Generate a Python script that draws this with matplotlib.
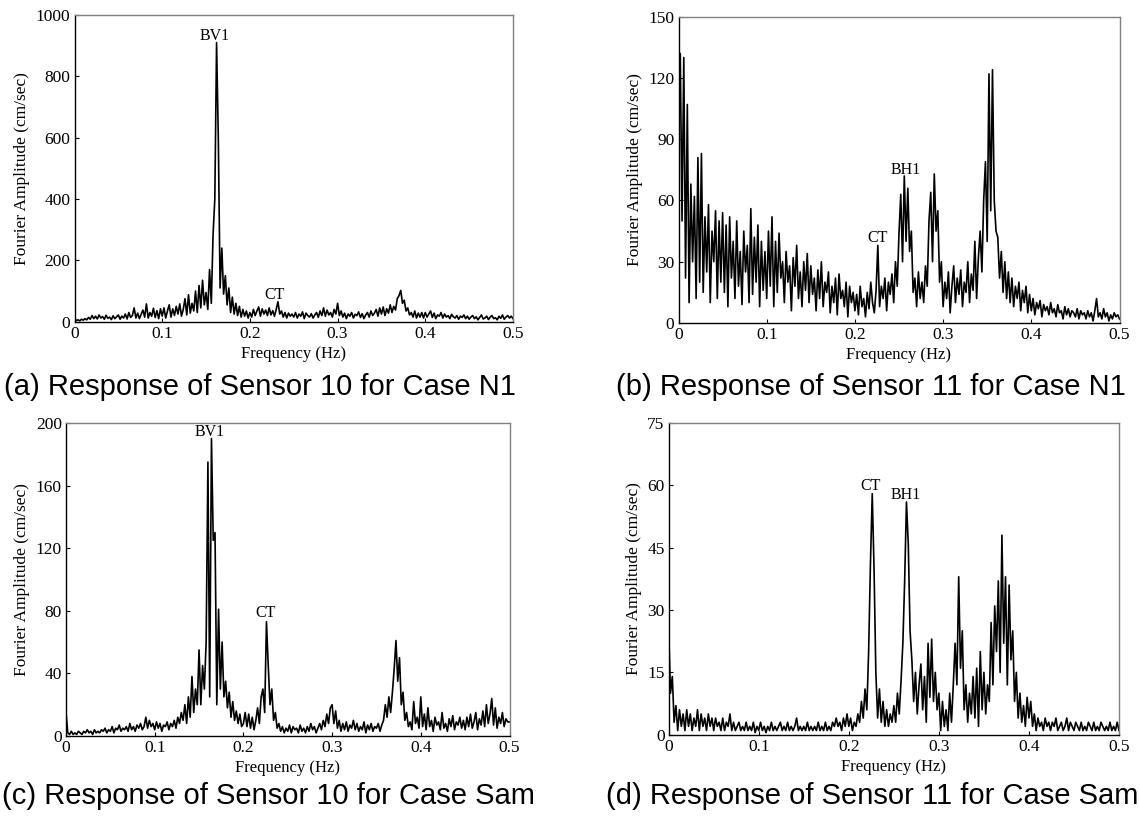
"""Fourier amplitude spectra of sensors 10 and 11 (cases N1 and Sam).

Four MATLAB-looking panels, each with its caption underneath.
The figure is written to out.png.
"""

from matplotlib import pyplot as plt

import numpy as np

# frequency bins, 0 - 0.5 Hz every 0.002 Hz
freq = np.arange(251) * 0.002

xtick_vals = [0, 0.1, 0.2, 0.3, 0.4, 0.5]
xtick_labels = ['0', '0.1', '0.2', '0.3', '0.4', '0.5']

# (a) sensor 10, case N1
amp_s10_n1 = [
    12, 4, 6, 3, 8, 5, 10, 6, 14, 8, 20, 10, 18, 9, 22, 12, 17, 8, 21, 11, 15, 7, 19, 10, 16,
    22, 8, 18, 12, 25, 9, 30, 14, 20, 45, 12, 28, 10, 24, 38, 15, 58, 12, 30, 18, 44, 14, 36, 10, 42,
    18, 45, 12, 35, 55, 15, 42, 20, 50, 25, 58, 18, 40, 75, 22, 88, 28, 60, 35, 100, 30, 118, 45, 135, 55,
    95, 40, 170, 60, 285, 400, 910, 595, 110, 240, 90, 150, 55, 110, 30, 80, 25, 60, 20, 50, 15, 40, 18, 35, 12,
    30, 15, 40, 20, 35, 48, 18, 42, 25, 38, 20, 45, 22, 36, 18, 40, 65, 25, 35, 15, 30, 12, 28, 18, 25,
    15, 30, 12, 25, 18, 32, 10, 28, 20, 15, 26, 12, 22, 30, 14, 35, 20, 45, 18, 38, 22, 30, 15, 40, 25,
    60, 20, 35, 15, 28, 10, 25, 18, 30, 12, 24, 20, 32, 14, 26, 10, 22, 30, 15, 35, 20, 28, 40, 18, 45,
    25, 48, 20, 42, 28, 55, 30, 50, 38, 75, 85, 102, 60, 70, 35, 45, 22, 30, 15, 35, 12, 28, 15, 30, 12,
    30, 15, 25, 35, 14, 28, 10, 22, 18, 30, 12, 25, 15, 20, 10, 24, 16, 12, 20, 8, 18, 14, 22, 10, 18,
    8, 15, 20, 10, 16, 6, 14, 22, 9, 12, 18, 7, 15, 20, 10, 13, 6, 18, 11, 22, 8, 15, 20, 12, 18,
    10,
]

# (b) sensor 11, case N1
amp_s11_n1 = [
    118, 132, 50, 130, 22, 107, 10, 68, 30, 62, 12, 81, 20, 83, 15, 52, 25, 58, 10, 45, 30, 55, 12, 50, 20,
    54, 15, 48, 8, 52, 22, 40, 12, 50, 18, 35, 9, 45, 25, 38, 10, 56, 14, 42, 20, 48, 8, 40, 16, 35,
    12, 45, 18, 52, 8, 40, 15, 44, 22, 30, 10, 35, 20, 28, 6, 32, 18, 38, 12, 25, 8, 30, 16, 34, 10,
    28, 14, 22, 6, 26, 12, 30, 8, 20, 15, 25, 5, 18, 10, 22, 4, 24, 12, 16, 8, 20, 3, 18, 10, 15,
    6, 14, 4, 18, 8, 12, 3, 15, 7, 20, 10, 5, 16, 38, 8, 18, 12, 22, 6, 20, 14, 24, 10, 30, 18,
    44, 63, 30, 72, 40, 66, 35, 45, 15, 22, 8, 25, 12, 20, 10, 28, 18, 50, 64, 30, 73, 45, 55, 20, 30,
    8, 20, 12, 25, 5, 18, 28, 10, 22, 14, 26, 8, 20, 15, 30, 10, 24, 16, 40, 12, 32, 45, 25, 60, 79,
    40, 122, 55, 124, 60, 45, 42, 22, 35, 15, 30, 12, 25, 10, 22, 8, 18, 12, 20, 6, 16, 10, 18, 5, 14,
    6, 12, 4, 10, 7, 11, 3, 9, 6, 8, 4, 10, 5, 7, 3, 9, 5, 6, 2, 8, 4, 7, 3, 6, 5,
    3, 7, 2, 6, 4, 5, 2, 6, 3, 5, 1, 6, 12, 3, 5, 2, 7, 3, 5, 1, 4, 2, 5, 3, 4,
    2,
]

# (c) sensor 10, case Sam
amp_s10_sam = [
    15, 2, 1, 3, 1, 2, 1, 3, 2, 1, 3, 2, 4, 2, 3, 1, 4, 2, 3, 2, 4, 3, 5, 2, 4,
    3, 6, 2, 5, 4, 7, 3, 5, 4, 6, 3, 8, 4, 6, 3, 7, 5, 8, 4, 6, 12, 5, 10, 6, 8,
    4, 9, 5, 8, 3, 7, 6, 9, 4, 8, 6, 10, 5, 12, 8, 15, 10, 20, 8, 25, 12, 38, 15, 30, 20,
    55, 20, 45, 30, 60, 175, 25, 190, 125, 130, 20, 81, 30, 60, 25, 35, 18, 28, 12, 22, 10, 16, 8, 14, 6,
    8, 15, 6, 14, 5, 12, 4, 10, 18, 8, 25, 30, 15, 73, 45, 20, 30, 10, 15, 5, 8, 3, 6, 2, 5,
    3, 7, 2, 6, 4, 5, 2, 7, 3, 5, 2, 6, 3, 8, 4, 6, 2, 5, 8, 4, 10, 6, 14, 8, 18,
    20, 8, 16, 5, 10, 3, 8, 4, 9, 3, 7, 5, 10, 4, 8, 3, 6, 4, 9, 2, 7, 4, 8, 3, 6,
    5, 8, 3, 7, 10, 20, 12, 25, 15, 28, 43, 61, 35, 50, 20, 28, 10, 15, 6, 9, 4, 22, 8, 12, 5,
    25, 6, 14, 4, 18, 6, 10, 3, 12, 7, 9, 4, 15, 5, 8, 3, 11, 6, 13, 4, 9, 7, 12, 5, 10,
    4, 12, 6, 14, 5, 9, 15, 4, 11, 7, 16, 6, 20, 8, 14, 24, 7, 18, 5, 12, 8, 15, 6, 11, 9,
    9,
]

# (d) sensor 11, case Sam
amp_s11_sam = [
    25, 10, 14, 3, 7, 1, 6, 2, 5, 1, 6, 2, 5, 1, 4, 2, 6, 1, 5, 2, 4, 1, 5, 2, 4,
    1, 4, 2, 3, 1, 4, 1, 3, 2, 5, 1, 3, 1, 2, 3, 1, 2, 1, 3, 1, 2, 1, 3, 0.5, 2,
    1, 3, 1, 2, 0.5, 2, 1, 3, 1, 2, 1, 2, 3, 1, 2, 1, 3, 1, 2, 1, 2, 4, 1, 2, 1,
    2, 1, 3, 1, 2, 1, 2, 1, 3, 1, 2, 1, 3, 1, 2, 1, 3, 2, 4, 2, 3, 1, 4, 2, 5,
    2, 4, 1, 3, 2, 5, 3, 8, 4, 11, 6, 20, 41, 58, 40, 15, 4, 11, 3, 8, 2, 6, 2, 5, 3,
    7, 3, 10, 5, 13, 22, 37, 56, 46, 25, 18, 8, 15, 5, 12, 17, 6, 14, 3, 22, 9, 23, 8, 15, 6,
    10, 1, 8, 2, 6, 1, 10, 3, 12, 22, 12, 38, 16, 25, 6, 12, 3, 10, 5, 14, 4, 16, 2, 20, 6,
    15, 5, 12, 8, 27, 12, 31, 20, 37, 15, 48, 22, 38, 12, 36, 18, 25, 8, 15, 4, 10, 3, 7, 2, 9,
    4, 8, 2, 5, 1, 4, 2, 3, 1, 4, 2, 3, 1, 3, 2, 4, 1, 2, 3, 1, 2, 4, 1, 3, 2,
    1, 3, 2, 1, 3, 1, 2, 1, 3, 2, 1, 3, 1, 2, 1, 3, 2, 1, 2, 1, 3, 1, 2, 1, 3,
    1,
]

yticks_s10_n1 = [0, 200, 400, 600, 800, 1000]
yticks_s11_n1 = [0, 30, 60, 90, 120, 150]
yticks_s10_sam = [0, 40, 80, 120, 160, 200]
yticks_s11_sam = [0, 15, 30, 45, 60, 75]

captions = [
    '(a) Response of Sensor 10 for Case N1',
    '(b) Response of Sensor 11 for Case N1',
    '(c) Response of Sensor 10 for Case Sam',
    '(d) Response of Sensor 11 for Case Sam',
]

W, H = 1140, 816
plt.rcParams['font.family'] = 'Liberation Serif'


def axes_px(fig, left, top, right, bottom):
    """add an axes given its box in pixels (origin top-left)"""
    return fig.add_axes([left / W, 1 - bottom / H, (right - left) / W, (bottom - top) / H])


def draw_panel(ax, amp, yticks, marks):
    """one spectrum, boxed like a MATLAB plot, with the mode labels"""
    ax.plot(freq, amp, color='black', lw=1.2)
    ax.set_xlim(0, 0.5)
    ax.set_ylim(yticks[0], yticks[-1])
    ax.set_xticks(xtick_vals)
    ax.set_xticklabels(xtick_labels)
    ax.set_yticks(yticks)
    ax.tick_params(direction='in', length=3, width=0.8, labelsize=12.5, pad=3)
    for side in ['left', 'bottom']:
        ax.spines[side].set_color('black')
    for side in ['top', 'right']:
        ax.spines[side].set_color('#808080')
    for sp in ax.spines.values():
        sp.set_linewidth(1.0)
    ax.set_xlabel('Frequency (Hz)', fontsize=12, labelpad=3)
    ax.set_ylabel('Fourier Amplitude (cm/sec)', fontsize=12.5, labelpad=4)
    for txt, x, y in marks:
        ax.text(x, y, txt, ha='center', va='center', fontsize=11.5)


fig = plt.figure(figsize=(W / 100, H / 100), dpi=100)

ax_a = axes_px(fig, 74.5, 15, 513, 321.7)
ax_b = axes_px(fig, 678.5, 16.7, 1119.5, 323)
ax_c = axes_px(fig, 66, 423, 509.5, 736)
ax_d = axes_px(fig, 668.7, 423, 1119, 734.7)

draw_panel(ax_a, amp_s10_n1, yticks_s10_n1, [('BV1', 0.160, 931), ('CT', 0.2285, 87)])
draw_panel(ax_b, amp_s11_n1, yticks_s11_n1, [('BH1', 0.258, 75), ('CT', 0.226, 41.6)])
draw_panel(ax_c, amp_s10_sam, yticks_s10_sam, [('BV1', 0.162, 194), ('CT', 0.2255, 78.6)])
draw_panel(ax_d, amp_s11_sam, yticks_s11_sam, [('CT', 0.2244, 59.8), ('BH1', 0.263, 57.7)])

# captions under each panel (Arial-like)
cap_pos = [(260, 387), (871, 387), (268, 796), (872, 796)]
for cap, (cx, cy) in zip(captions, cap_pos):
    fig.text(cx / W, 1 - cy / H, cap, ha='center', va='center',
             family='Liberation Sans', fontsize=21)

fig.savefig('out.png', dpi=100)
